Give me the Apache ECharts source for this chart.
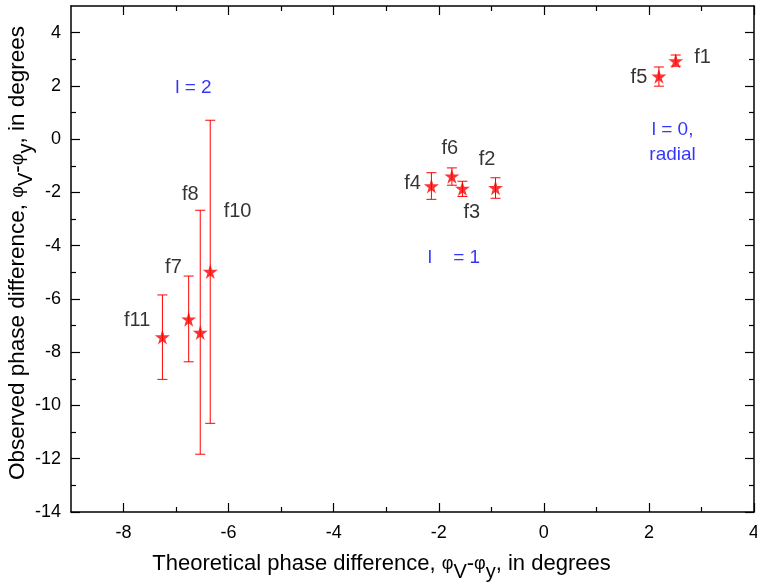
<!DOCTYPE html>
<html>
<head>
<meta charset="utf-8">
<script src="https://cdn.jsdelivr.net/npm/echarts@6/dist/echarts.min.js"></script>
<style>
  html, body { margin: 0; padding: 0; background: #fff; }
  #chart { width: 757px; height: 586px; }
</style>
</head>
<body>
<div id="chart"></div>
<script>
// modes f1..f11: theoretical vs observed phase difference, with error bars
const names    = ['f11', 'f7', 'f8', 'f10', 'f4', 'f6', 'f3', 'f2', 'f5', 'f1'];
const theoX    = [-7.26, -6.76, -6.54, -6.35, -2.14, -1.75, -1.55, -0.92, 2.19, 2.51];
const observed = [-7.43, -6.76, -7.26, -4.97, -1.76, -1.39, -1.85, -1.82, 2.36, 2.94];
const errLow   = [-9.02, -8.36, -11.83, -10.67, -2.26, -1.73, -2.15, -2.22, 1.99, 2.74];
const errHigh  = [-5.85, -5.14, -2.67, 0.71, -1.26, -1.08, -1.58, -1.45, 2.71, 3.16];

// point labels (text centre, data units)
const labelText = ['f11', 'f7', 'f8', 'f10', 'f4', 'f6', 'f2', 'f3', 'f5', 'f1'];
const labelX    = [-7.74, -7.05, -6.73, -5.83, -2.50, -1.79, -1.08, -1.37, 1.81, 3.02];
const labelY    = [-6.80, -4.80, -2.08, -2.71, -1.67, -0.36, -0.76, -2.76, 2.31, 3.07];

// degree groups (blue notes)
const noteText = ['l = 2', 'l    = 1', 'l = 0,\nradial'];
const noteX    = [-6.67, -1.71, 2.45];
const noteY    = [1.93, -4.44, -0.13];

const xMajor = [-8, -6, -4, -2, 0, 2, 4];
const xMinor = [-7, -5, -3, -1, 1, 3];
const yMajor = [-14, -12, -10, -8, -6, -4, -2, 0, 2, 4];
const yMinor = [-13, -11, -9, -7, -5, -3, -1, 1, 3];

const FONT = 'Liberation Sans, Arial, sans-serif';
const STAR = 'path://M50,0 L61,35 L98,35 L68,57 L79,91 L50,70 L21,91 L32,57 L2,35 L39,35 Z';

const chart = echarts.init(document.getElementById('chart'));

const frameLine = { show: true, onZero: false, lineStyle: { color: '#000', width: 1.5 } };
const noLine = { show: false, onZero: false };
const tickStyle = { color: '#000', width: 1.2 };

const titleRich = {
  phi: { fontSize: 18, fontFamily: FONT, color: '#000' },
  sub: { fontSize: 20, fontFamily: FONT, color: '#000', padding: [16, 0, 0, 0] }
};
const titleStr = (a, b) => a + ' {phi|φ}{sub|V}-{phi|φ}{sub|y}' + b;

const xAx = (pos, ticks, len, main) => ({
  type: 'value', position: pos, min: -9, max: 4,
  axisLine: main ? frameLine : noLine,
  axisTick: { show: true, inside: true, length: len, customValues: ticks, lineStyle: tickStyle },
  axisLabel: main && pos === 'bottom'
    ? { show: true, customValues: xMajor, margin: 12, fontSize: 18, color: '#000', fontFamily: FONT }
    : { show: false },
  splitLine: { show: false }
});
const yAx = (pos, ticks, len, main) => ({
  type: 'value', position: pos, min: -14, max: 5,
  axisLine: main ? frameLine : noLine,
  axisTick: { show: true, inside: true, length: len, customValues: ticks, lineStyle: tickStyle },
  axisLabel: main && pos === 'left'
    ? { show: true, customValues: yMajor, margin: 10, fontSize: 18, color: '#000', fontFamily: FONT }
    : { show: false },
  splitLine: { show: false }
});

const xAxes = [
  xAx('bottom', xMajor, 9, true), xAx('bottom', xMinor, 5, false),
  xAx('top', xMajor, 9, true), xAx('top', xMinor, 5, false)
];
Object.assign(xAxes[0], {
  name: titleStr('Theoretical phase difference,', ', in degrees'),
  nameLocation: 'middle', nameGap: 34, nameMoveOverlap: false,
  nameTextStyle: { fontSize: 22, fontFamily: FONT, color: '#000', rich: titleRich, padding: [0, 62, 0, 0] }
});
const yAxes = [
  yAx('left', yMajor, 9, true), yAx('left', yMinor, 5, false),
  yAx('right', yMajor, 9, true), yAx('right', yMinor, 5, false)
];
Object.assign(yAxes[0], {
  name: titleStr('Observed phase difference,', ', in degrees'),
  nameLocation: 'middle', nameGap: 35, nameMoveOverlap: false,
  nameTextStyle: { fontSize: 22.5, fontFamily: FONT, color: '#000', rich: titleRich, padding: [0, 0, 0, 12] }
});

chart.setOption({
  backgroundColor: '#fff',
  animation: false,
  grid: { left: 71, right: 3, top: 6, bottom: 74, containLabel: false, outerBoundsMode: 'none' },
  xAxis: xAxes,
  yAxis: yAxes,
  series: [
    {
      type: 'custom',
      xAxisIndex: 0, yAxisIndex: 0,
      data: theoX.map((x, i) => [x, errLow[i], errHigh[i]]),
      renderItem: (params, api) => {
        const lo = api.coord([api.value(0), api.value(1)]);
        const hi = api.coord([api.value(0), api.value(2)]);
        const w = 5;
        const st = { stroke: '#ff0000', lineWidth: 1 };
        return {
          type: 'group',
          children: [
            { type: 'line', shape: { x1: lo[0], y1: lo[1], x2: hi[0], y2: hi[1] }, style: st },
            { type: 'line', shape: { x1: lo[0] - w, y1: lo[1], x2: lo[0] + w, y2: lo[1] }, style: st },
            { type: 'line', shape: { x1: hi[0] - w, y1: hi[1], x2: hi[0] + w, y2: hi[1] }, style: st }
          ]
        };
      },
      z: 2
    },
    {
      type: 'scatter',
      xAxisIndex: 0, yAxisIndex: 0,
      symbol: STAR, symbolSize: 15,
      itemStyle: { color: '#ff0000' },
      data: theoX.map((x, i) => ({ name: names[i], value: [x, observed[i]] })),
      z: 3
    },
    {
      type: 'scatter',
      xAxisIndex: 0, yAxisIndex: 0,
      symbolSize: 0, silent: true,
      label: { show: true, position: 'inside', formatter: p => p.name, fontSize: 20, color: '#000', fontFamily: FONT },
      data: labelText.map((t, i) => ({ name: t, value: [labelX[i], labelY[i]] })),
      z: 4
    },
    {
      type: 'scatter',
      xAxisIndex: 0, yAxisIndex: 0,
      symbolSize: 0, silent: true,
      label: { show: true, position: 'inside', formatter: p => p.name, fontSize: 19, lineHeight: 25, align: 'center', color: '#0000ff', fontFamily: FONT },
      data: noteText.map((t, i) => ({ name: t, value: [noteX[i], noteY[i]] })),
      z: 4
    }
  ]
});
</script>
</body>
</html>
